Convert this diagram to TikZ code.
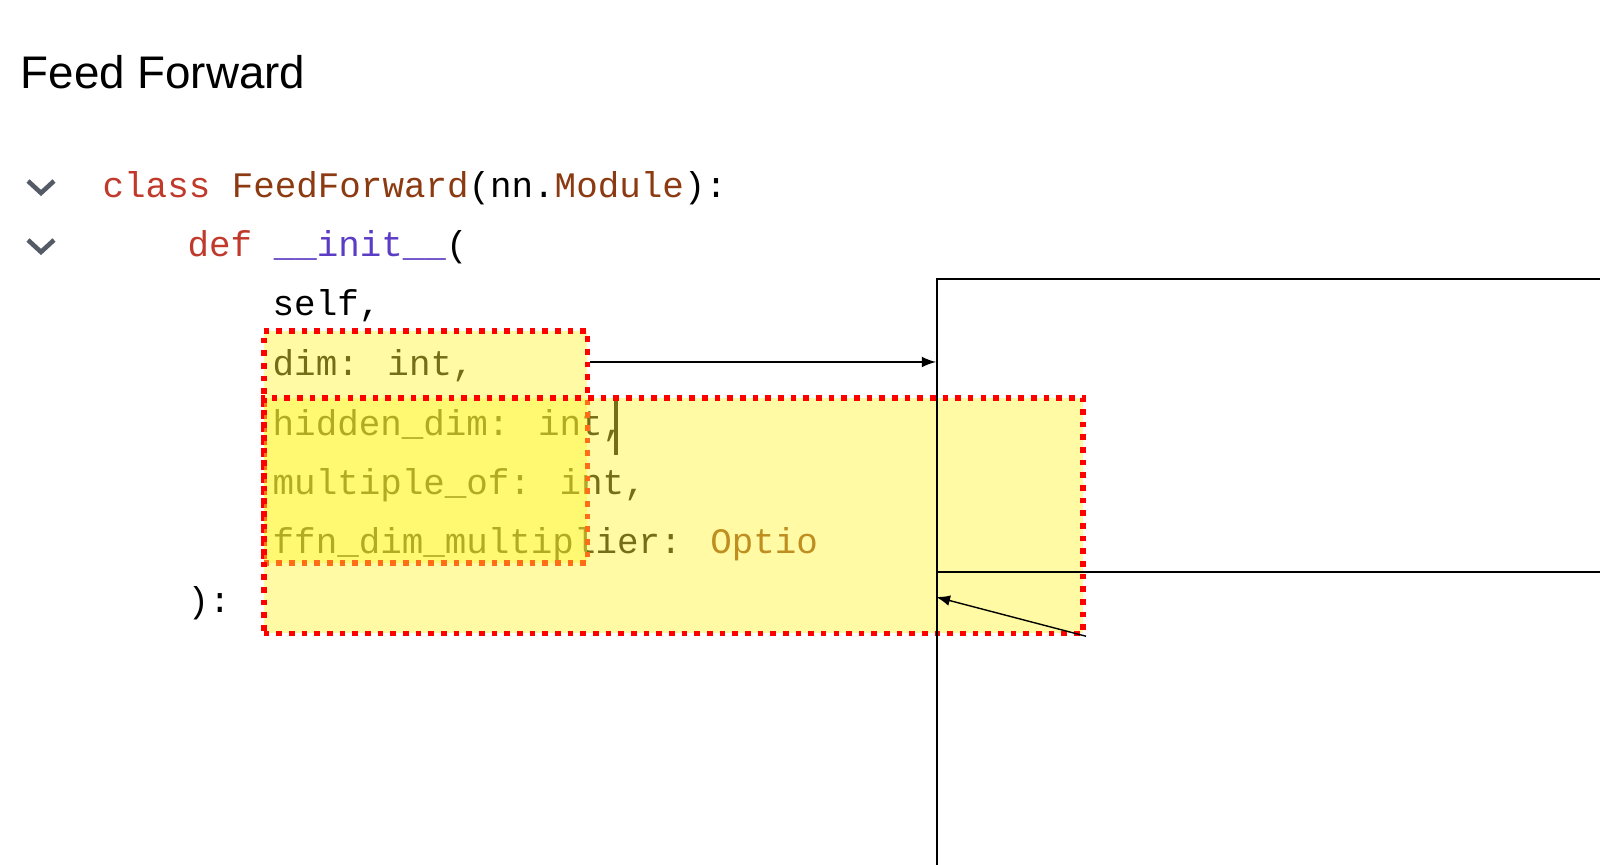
\documentclass[tikz,border=0pt]{standalone}
\usepackage{fontspec}
\setmainfont{Liberation Sans}
\newfontfamily\codefont{Liberation Mono}
\usetikzlibrary{calc}
\definecolor{kwred}{HTML}{C0392B}
\definecolor{clsbrown}{HTML}{8B3A12}
\definecolor{fnpurple}{HTML}{5B3CC4}
\definecolor{chev}{HTML}{555B66}

\tikzset{
  code/.style={anchor=west, inner sep=0pt, font=\codefont\fontsize{10.2}{12}\selectfont},
  hl/.style={draw=red, dotted, line width=1.6pt, fill=yellow!80, fill opacity=0.45},
  box/.style={draw=black, line width=0.6pt},
  link/.style={-latex, line width=0.4pt}
}

\begin{document}
\begin{tikzpicture}[x=0.01cm, y=-0.01cm]
  \useasboundingbox (0,0) rectangle (1600,865);
  \node[anchor=west, inner sep=0pt, font=\fontsize{13}{15}\selectfont] (title) at (20,72) {Feed Forward};

  % folding chevrons
  \foreach \yy in {188,247}
    \draw[chev, line width=1.3pt] (28,\yy-7) -- (41,\yy+5) -- (54,\yy-7);

  % code lines
  \node[code] (l1) at (102,188) {\textcolor{kwred}{class} \textcolor{clsbrown}{FeedForward}(nn.\textcolor{clsbrown}{Module}):};
  \node[code] (l2) at (187,247) {\textcolor{kwred}{def} \textcolor{fnpurple}{\_\_init\_\_}(};
  \node[code] (l3) at (272,306) {self,};
  \node[code] (l4) at (272,366) {dim: int,};
  \node[code] (l5) at (272,426) {hidden\_dim: int,};
  \node[code] (l6) at (272,485) {multiple\_of: int,};
  \node[code] (l7) at (272,544) {ffn\_dim\_multiplier: \textcolor{clsbrown}{Optio}};
  \node[code] (l8) at (187,603) {):};
  \draw[line width=1.2pt] (616,398) -- (616,455);

  % highlights
  \node[hl, minimum width=92, minimum height=66, anchor=north west] (dim) at (261,328) {};
  \node[hl, minimum width=233, minimum height=67, anchor=north west] (hid) at (261,395) {};

  % empty boxes
  \node[box, minimum width=402, minimum height=171, anchor=north west] (bdim) at (936,278) {};
  \node[box, minimum width=402, minimum height=172, anchor=north west] (bhid) at (936,571) {};

  \coordinate (t1) at (936,362);
  \coordinate (t2) at (936,597);
  \draw[link] (dim.east |- t1) -- (t1);
  \draw[link] (hid.south east) -- (t2);
\end{tikzpicture}
\end{document}
